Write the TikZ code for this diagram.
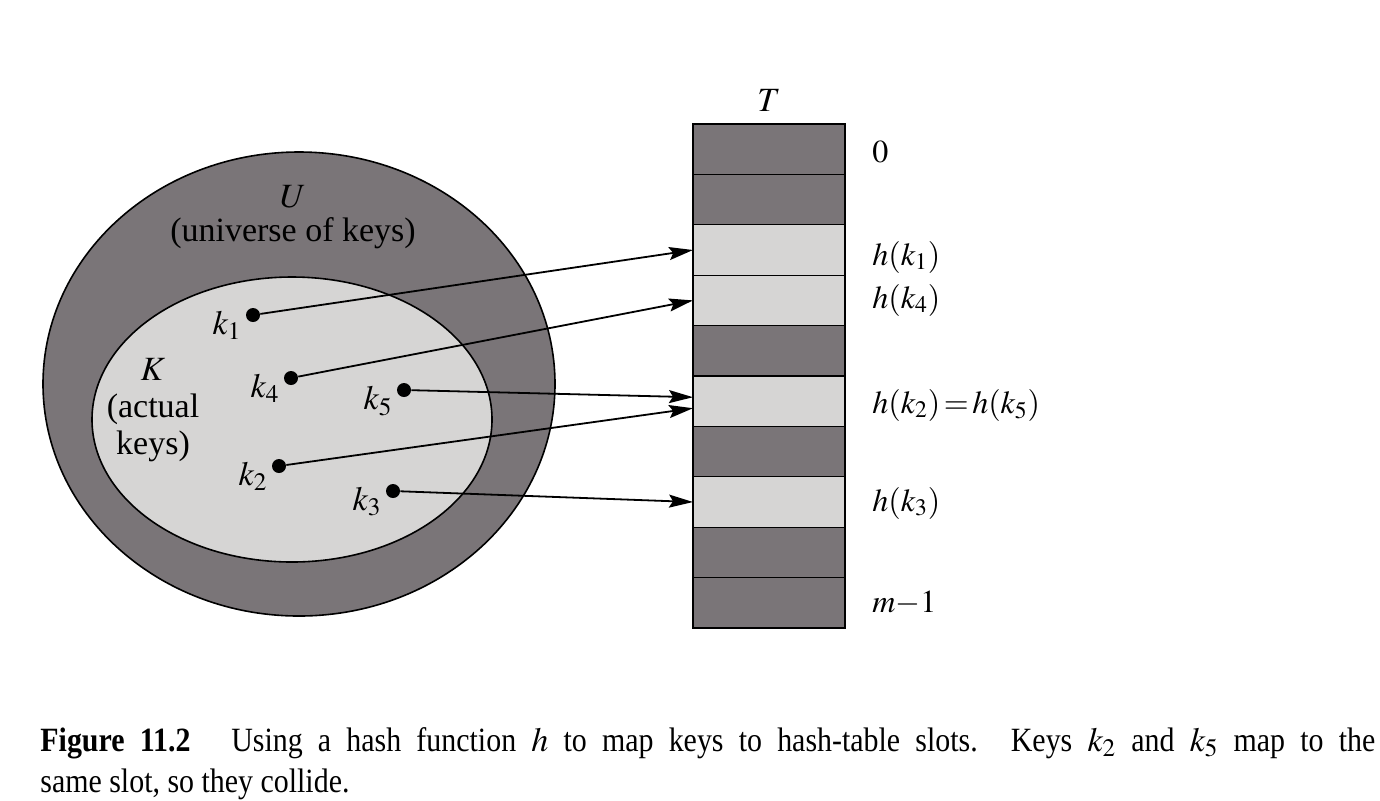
\documentclass[tikz,border=0pt]{standalone}
\usepackage{mathptmx}
\usepackage{fontspec}
\setmainfont{Liberation Serif}
\newfontfamily\capfont[FakeStretch=0.88]{Liberation Serif}
\usetikzlibrary{arrows.meta,calc}
\definecolor{slotdark}{RGB}{122,117,120}
\definecolor{slotlight}{RGB}{214,213,212}
\begin{document}
\begin{tikzpicture}[x=0.5pt,y=-0.5pt,
  lab/.style={font=\fontsize{17}{18.5}\selectfont, inner sep=0pt},
  slotlab/.style={font=\fontsize{16}{18}\selectfont, inner sep=0pt, anchor=west},
  keydot/.style={circle, fill=black, inner sep=0pt, minimum size=7pt},
  keylab/.style={lab, anchor=north east},
  slot/.style={draw=black, line width=0.6pt, minimum width=76pt,
    minimum height=25.2pt, inner sep=0pt, outer sep=0pt},
  hasharrow/.style={-{Stealth[length=12pt,width=6.5pt,inset=2pt]}, line width=0.9pt},
  region/.style={draw=black, line width=0.8pt},
  captext/.style={anchor=base west, inner sep=0pt, font=\capfont\fontsize{17}{20}\selectfont}]
\useasboundingbox (0,0) rectangle (1380,800);

% universe of keys U with the set K of actual keys inside
\draw[region, fill=slotdark] (299,384) ellipse [x radius=128pt, y radius=116pt];
\draw[region, fill=slotlight] (292,419.5) ellipse [x radius=100pt, y radius=71.25pt];

\node[lab] (U) at (293,197) {$U$};
\node[lab] (Udesc) at (293,233) {(universe of keys)};
\node[lab, align=center] (K) at (153,410) {$K$\\(actual\\keys)};

% hash table T with slots 0 .. m-1
\node[lab] (T) at (769,100) {$T$};
\node[slot, fill=slotdark,  anchor=north west] (s0) at (693,124) {};
\node[slot, fill=slotdark,  anchor=north] (s1) at (s0.south) {};
\node[slot, fill=slotlight, anchor=north] (s2) at (s1.south) {};
\node[slot, fill=slotlight, anchor=north] (s3) at (s2.south) {};
\node[slot, fill=slotdark,  anchor=north] (s4) at (s3.south) {};
\node[slot, fill=slotlight, anchor=north] (s5) at (s4.south) {};
\node[slot, fill=slotdark,  anchor=north] (s6) at (s5.south) {};
\node[slot, fill=slotlight, anchor=north] (s7) at (s6.south) {};
\node[slot, fill=slotdark,  anchor=north] (s8) at (s7.south) {};
\node[slot, fill=slotdark,  anchor=north] (s9) at (s8.south) {};
\draw[line width=0.9pt] (s0.north west) rectangle (s9.south east);

% slot labels
\node[slotlab] (l0)  at (872,152) {$0$};
\node[slotlab] (lh1) at (872,257) {$h(k_1)$};
\node[slotlab] (lh4) at (872,300) {$h(k_4)$};
\node[slotlab] (lh2) at (872,405) {$h(k_2)\,{=}\,h(k_5)$};
\node[slotlab] (lh3) at (872,503) {$h(k_3)$};
\node[slotlab] (lm)  at (872,603) {$m{-}1$};

% keys
\node[keydot] (k1) at (253,315) {};
\node[keydot] (k4) at (291,378) {};
\node[keydot] (k5) at (404,390) {};
\node[keydot] (k2) at (279,466) {};
\node[keydot] (k3) at (393,491) {};
\node[keylab] (lk1) at ($(k1.north west)+(-6,1)$) {$k_1$};
\node[keylab] (lk4) at ($(k4.north west)+(-6,1)$) {$k_4$};
\node[keylab] (lk5) at ($(k5.north west)+(-6,1)$) {$k_5$};
\node[keylab] (lk2) at ($(k2.north west)+(-6,1)$) {$k_2$};
\node[keylab] (lk3) at ($(k3.north west)+(-6,1)$) {$k_3$};

% hash function h: keys to slots
\coordinate (e5) at ($(s5.west)+(0,-4)$);
\coordinate (e2) at ($(s5.west)+(0,7)$);
\draw[hasharrow] (k1) -- (s2.west);
\draw[hasharrow] (k4) -- (s3.west);
\draw[hasharrow] (k5) -- (e5);
\draw[hasharrow] (k2) -- (e2);
\draw[hasharrow] (k3) -- (s7.west);

% caption
\node[captext] (cap1) at (40,751) {\makebox[667.5pt][s]{\textbf{Figure 11.2}\hspace{1.2em}Using a hash function $h$ to map keys to hash-table slots. Keys $k_2$ and $k_5$ map to the}};
\node[captext] (cap2) at (40,792) {same slot, so they collide.};
\end{tikzpicture}
\end{document}
